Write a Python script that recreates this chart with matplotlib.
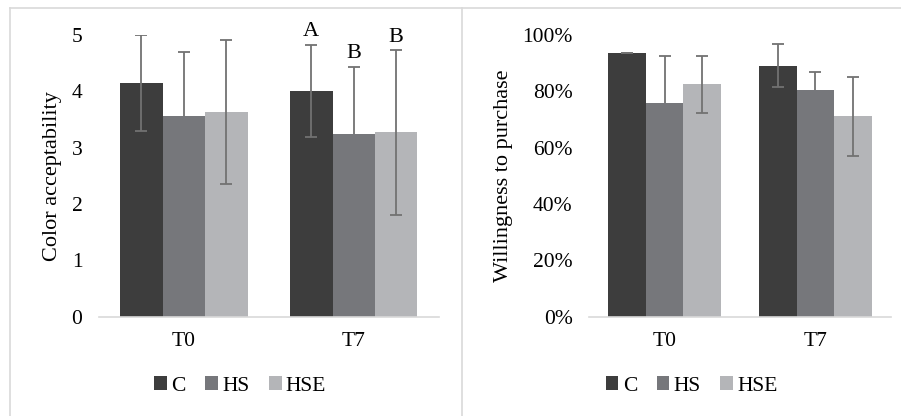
import matplotlib.pyplot as plt
from matplotlib.lines import Line2D
from matplotlib.ticker import PercentFormatter
import numpy as np

plt.rcParams['font.family'] = ['Liberation Serif', 'DejaVu Serif']

times = ['T0', 'T7']
groups = ['C', 'HS', 'HSE']
colors = ['#3d3d3d', '#76777b', '#b4b5b8']

# color acceptability (score 0-5)
color_mean = {'C': [4.15, 4.01], 'HS': [3.56, 3.25], 'HSE': [3.63, 3.27]}
color_lo = {'C': [0.85, 0.82], 'HS': [0.0, 0.0], 'HSE': [1.28, 1.46]}
color_hi = {'C': [0.85, 0.82], 'HS': [1.13, 1.19], 'HSE': [1.28, 1.46]}
letters = {'C': ['', 'A'], 'HS': ['', 'B'], 'HSE': ['', 'B']}

# willingness to purchase (%)
buy_mean = {'C': [93.7, 89.1], 'HS': [75.7, 80.4], 'HSE': [82.5, 71.2]}
buy_lo = {'C': [0.0, 7.7], 'HS': [0.0, 0.0], 'HSE': [10.2, 14.0]}
buy_hi = {'C': [0.0, 7.7], 'HS': [17.0, 6.6], 'HSE': [10.2, 14.0]}

W, H = 901, 416
fig = plt.figure(figsize=(W / 100, H / 100), dpi=100)

# panel frames
frame = '#d9d9d9'
fig.add_artist(Line2D([10 / W, 1], [1 - 8 / H] * 2, color=frame, lw=1.2))
fig.add_artist(Line2D([10 / W] * 2, [0, 1 - 8 / H], color=frame, lw=1.2))
fig.add_artist(Line2D([462 / W] * 2, [0, 1 - 8 / H], color=frame, lw=1.2))


def draw(ax, mean, lo, hi, ymax, ylabel, legx, lab=None):
    x = np.arange(len(times))
    width = 0.25
    for i, g in enumerate(groups):
        pos = x + (i - 1) * width
        ax.bar(pos, mean[g], width, color=colors[i], label=g, zorder=2)
        eb = ax.errorbar(pos, mean[g], yerr=[lo[g], hi[g]], fmt='none',
                         ecolor='#727272', elinewidth=1.3, capsize=4, capthick=1.3, zorder=3)
        if not any(lo[g]):
            # plus-only error bars: no lower cap
            eb[1][0].set_visible(False)
        if lab:
            for p, m, h, t in zip(pos, mean[g], hi[g], lab[g]):
                if t:
                    ax.text(p, m + h + 0.012 * ymax, t, ha='center', va='bottom', fontsize=16)
    ax.set_xlim(-0.5, 1.5)
    ax.set_ylim(0, ymax)
    ax.set_xticks(x)
    ax.set_xticklabels(times)
    for s in ['top', 'right', 'left']:
        ax.spines[s].set_visible(False)
    ax.spines['bottom'].set_color('#d9d9d9')
    ax.spines['bottom'].set_linewidth(1.2)
    ax.tick_params(length=0, labelsize=15.5, pad=11)
    ax.tick_params(axis='y', pad=12)
    ax.set_ylabel(ylabel, fontsize=16, labelpad=7)
    ax.legend(loc='center', bbox_to_anchor=(legx, -0.246), ncol=3, frameon=False,
              fontsize=15.5, handlelength=0.6, handleheight=0.6, handletextpad=0.2,
              columnspacing=0.9)


ax1 = fig.add_axes([99 / W, 1 - 316.7 / H, (438.7 - 99) / W, (316.7 - 35) / H])
draw(ax1, color_mean, color_lo, color_hi, 5, 'Color acceptability', 0.415, letters)
ax1.set_yticks(range(6))

ax2 = fig.add_axes([589.3 / W, 1 - 316.7 / H, (890.7 - 589.3) / W, (316.7 - 35) / H])
draw(ax2, buy_mean, buy_lo, buy_hi, 100, 'Willingness to purchase', 0.34)
ax2.set_yticks(range(0, 101, 20))
ax2.yaxis.set_major_formatter(PercentFormatter(decimals=0))

fig.savefig('out.png', dpi=100)
